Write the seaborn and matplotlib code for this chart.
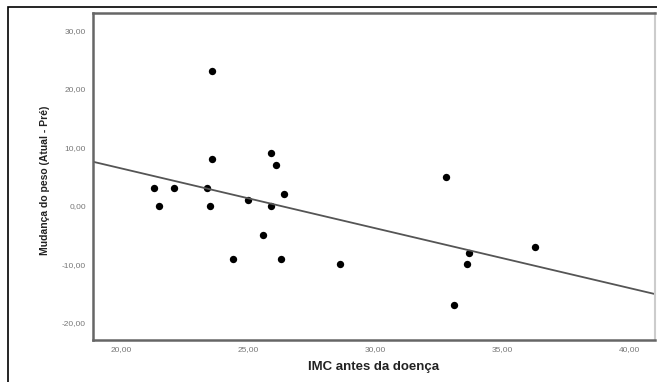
import matplotlib
matplotlib.use("Agg")
import matplotlib.pyplot as plt
import seaborn as sns
import pandas as pd
from matplotlib.patches import Rectangle
from matplotlib.ticker import FuncFormatter

# IMC before illness and weight change (current - before)
imc_antes = [21.3, 21.5, 22.1, 23.4, 23.5, 23.6, 23.6, 24.4, 25.0, 25.6, 25.9,
             25.9, 26.1, 26.3, 26.4, 28.6, 32.8, 33.1, 33.6, 33.7, 36.3]
mudanca_peso = [3, 0, 3, 3, 0, 23, 8, -9, 1, -5, 9,
                0, 7, -9, 2, -10, 5, -17, -10, -8, -7]
x_ticks = [20, 25, 30, 35, 40]
y_ticks = [-20, -10, 0, 10, 20, 30]

df = pd.DataFrame({"imc": imc_antes, "mudanca": mudanca_peso})

sns.set_style("white")
plt.rcParams["font.family"] = ["Liberation Sans", "DejaVu Sans"]

fig = plt.figure(figsize=(6.57, 3.82), dpi=100)
ax = fig.add_axes([0.1416, 0.11, 0.855, 0.855])
ax.set_xlim(18.9, 41.0)
ax.set_ylim(-22.9, 32.9)

sns.regplot(data=df, x="imc", y="mudanca", ax=ax, ci=None, truncate=False,
            scatter_kws={"color": "black", "s": 28, "linewidths": 0, "alpha": 1},
            line_kws={"color": "#555555", "linewidth": 1.3})

ax.set_xlim(18.9, 41.0)
ax.set_ylim(-22.9, 32.9)
ax.set_xticks(x_ticks)
ax.set_yticks(y_ticks)
fmt = FuncFormatter(lambda v, _: f"{v:.2f}".replace(".", ","))
ax.xaxis.set_major_formatter(fmt)
ax.yaxis.set_major_formatter(fmt)
ax.tick_params(axis="both", labelsize=6, colors="#777777", length=3, width=1, pad=2)
ax.tick_params(axis="x", direction="inout", length=5)
ax.tick_params(axis="y", direction="out")

for side in ["left", "bottom", "top"]:
    ax.spines[side].set_color("#666666")
    ax.spines[side].set_linewidth(1.8)
ax.spines["right"].set_color("#cccccc")
ax.spines["right"].set_linewidth(1.5)

ax.set_xlabel("IMC antes da doença", fontsize=9.5, fontweight="bold", color="#222222")
ax.set_ylabel("Mudança do peso (Atual - Pré)", fontsize=7.5, fontweight="bold", color="#222222")
ax.xaxis.set_label_coords(0.5, -0.065)
ax.yaxis.set_label_coords(-0.077, 0.49)

# outer frame
fig.patches.append(Rectangle((8 / 657, -0.05), 1.2, 1 - 7 / 382 + 0.05,
                             transform=fig.transFigure, fill=False,
                             edgecolor="black", linewidth=1.2))

fig.savefig("out.png", dpi=100)
